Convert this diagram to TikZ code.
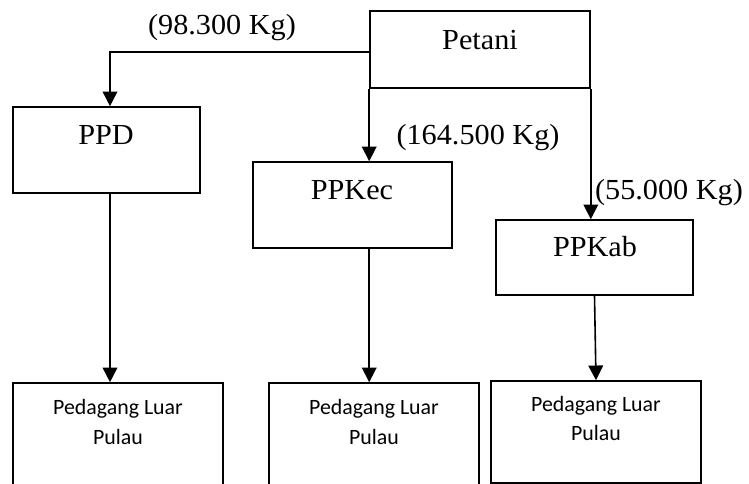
\documentclass[tikz,border=0pt]{standalone}
\usepackage{fontspec}
\setmainfont{Liberation Serif}
\newfontfamily\flowserif{Liberation Serif}[FakeStretch=1.04]
\newfontfamily\flowsans{Carlito}
\usetikzlibrary{fit,arrows.meta}
\begin{document}
\begin{tikzpicture}[x=0.75pt,y=-0.75pt,
  box/.style={draw,line width=1.2pt,inner sep=0pt,fit={#1}},
  arr/.style={draw,line width=1.2pt,-{Triangle[length=11pt,width=11pt]}},
  bigtext/.style={anchor=base,inner sep=0pt,font=\flowserif\fontsize{21.8}{26}\selectfont},
  smalltext/.style={anchor=base,inner sep=0pt,font=\flowsans\fontsize{16.4}{22.5}\selectfont}]
  \useasboundingbox (0,0) rectangle (749,484);
  \clip (0,0) rectangle (749,484);

  % boxes
  \node[box={(370,11) (590,88)}] (petani) {};
  \node[box={(13,107) (200,193)}] (ppd) {};
  \node[box={(253,162) (452,248)}] (ppkec) {};
  \node[box={(496,220) (693,295)}] (ppkab) {};
  \node[box={(13,383) (223,492)}] (b1) {};
  \node[box={(269,383) (479,492)}] (b2) {};
  \node[box={(491,381) (701,483)}] (b3) {};

  % box texts
  \node[bigtext] (tpetani) at (480,50) {Petani};
  \node[bigtext] (tppd) at (106,145) {PPD};
  \node[bigtext] (tppkec) at (352,200) {PPKec};
  \node[bigtext] (tppkab) at (595,257) {PPKab};

  \node[smalltext] (tb1a) at (118,414) {Pedagang Luar};
  \node[smalltext] (tb1b) at (118,444) {Pulau};
  \node[smalltext] (tb2a) at (374,414) {Pedagang Luar};
  \node[smalltext] (tb2b) at (374,444) {Pulau};
  \node[smalltext] (tb3a) at (596,411) {Pedagang Luar};
  \node[smalltext] (tb3b) at (596,440) {Pulau};

  % quantity labels
  \node[bigtext] (q1) at (222,35) {(98.300 Kg)};
  \node[bigtext] (q2) at (478,145) {(164.500 Kg)};
  \node[bigtext] (q3) at (669,200) {(55.000 Kg)};

  % connectors
  \coordinate (split) at (110,52);
  \draw[arr] (petani.west |- split) -- (split) -- (split |- ppd.north);
  \draw[arr] (petani.south west) -- (petani.south west |- ppkec.north);
  \draw[arr] (petani.south east) -- (petani.south east |- ppkab.north);
  \draw[arr] (ppd.south -| split) -- (split |- b1.north);
  \draw[arr] (petani.south west |- ppkec.south) -- (petani.south west |- b2.north);
  \draw[arr] (ppkab.south) -- (b3.north);
\end{tikzpicture}
\end{document}
